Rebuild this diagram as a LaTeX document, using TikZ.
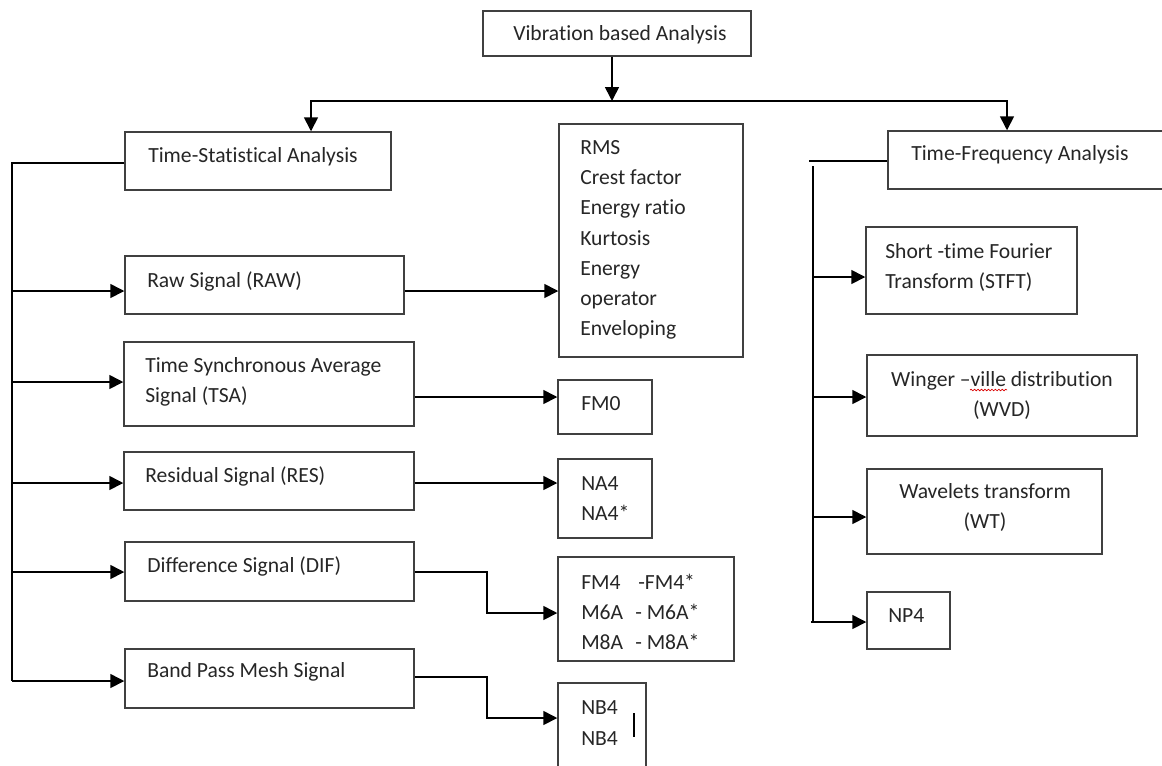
\documentclass[tikz,border=0pt]{standalone}
\usepackage{fontspec}
\setmainfont{Carlito}[Ligatures={NoCommon,NoRare,NoContextual}]
\usetikzlibrary{arrows.meta,fit,decorations.pathmorphing}
\begin{document}
\begin{tikzpicture}[x=0.75pt,y=-0.75pt,
  box/.style={draw=black!75, line width=1.1pt, inner sep=0pt},
  lbl/.style={font=\fontsize{16.2}{22.7}\selectfont, text=black!85, inner sep=0pt, align=left},
  clbl/.style={font=\fontsize{16.2}{22.7}\selectfont, text=black!85, inner sep=0pt, align=center},
  con/.style={line width=1.2pt},
  arr/.style={line width=1.2pt, -{Triangle[length=10.5pt,width=10.5pt]}}]
\useasboundingbox (0,0) rectangle (1162,765);
\clip (0,0) rectangle (1162,765);
\fill[white] (0,0) rectangle (1162,765);

% boxes
\node[box, fit={(483,11) (751,56)}] (top) {};
\node[box, fit={(125,132) (391,190)}] (tsa) {};
\node[box, fit={(125,256) (404,314)}] (raw) {};
\node[box, fit={(124,342) (414,426)}] (tsas) {};
\node[box, fit={(124,452) (414,510)}] (res) {};
\node[box, fit={(125,542) (414,601)}] (dif) {};
\node[box, fit={(125,649) (414,708)}] (bpm) {};
\node[box, fit={(559,124) (743,357)}] (list) {};
\node[box, fit={(558,380) (652,434)}] (fm0) {};
\node[box, fit={(558,459) (652,538)}] (na4) {};
\node[box, fit={(558,557) (734,661)}] (fm4) {};
\node[box, fit={(558,683) (646,790)}] (nb4) {};
\node[box, fit={(888,131) (1180,189)}] (tf) {};
\node[box, fit={(866,227) (1077,314)}] (stft) {};
\node[box, fit={(867,355) (1137,436)}] (wvd) {};
\node[box, fit={(867,469) (1102,554)}] (wt) {};
\node[box, fit={(867,592) (950,649)}] (np4) {};

% texts
\node[lbl, anchor=west] (topt) at (513,35) {Vibration based Analysis};
\node[lbl, anchor=west] (tsat) at (148,157) {Time-Statistical Analysis};
\node[lbl, anchor=west] (rawt) at (147,281) {Raw Signal (RAW)};
\node[lbl, anchor=west] (tsast) at (145,382) {Time Synchronous Average\\Signal (TSA)};
\node[lbl, anchor=west] (rest) at (145,476) {Residual Signal (RES)};
\node[lbl, anchor=west] (dift) at (147,566) {Difference Signal (DIF)};
\node[lbl, anchor=west] (bpmt) at (147,672) {Band Pass Mesh Signal};
\node[lbl, anchor=west] (listt) at (580,240) {RMS\\Crest factor\\Energy ratio\\Kurtosis\\Energy\\operator\\Enveloping};
\node[lbl, anchor=west] (fm0t) at (581,404) {FM0};
\node[lbl, anchor=west] (na4t) at (581,498.5) {NA4\\NA4*};
\node[lbl, anchor=west] (fm4t) at (581,612) {\makebox[42.75pt][l]{FM4}-FM4*\\\makebox[40.5pt][l]{M6A}- M6A*\\\makebox[40.5pt][l]{M8A}- M8A*};
\node[lbl, anchor=west] (nb4t) at (581,723) {NB4\\NB4};
\node[lbl, anchor=west] (tft) at (911,155) {Time-Frequency Analysis};
\node[lbl, anchor=west] (stftt) at (885,267.5) {Short -time Fourier\\Transform (STFT)};
\node[clbl] (wvdt) at (1002,395.5) {Winger –ville distribution\\(WVD)};
\node[clbl] (wtt) at (985,507.5) {Wavelets transform\\(WT)};
\node[lbl, anchor=west] (np4t) at (888,616) {NP4};

% spell-check squiggle and bar
\draw[red!85!black, line width=0.5pt, decorate, decoration={snake, amplitude=0.6pt, segment length=2.6pt}] (970,390) -- (1007,390);
\draw[line width=1.6pt] (634,713) -- (634,737);

% top distribution
\coordinate (jt) at (612,101);
\coordinate (jl) at (311,101);
\coordinate (jr) at (1007,101);
\draw[arr] (top.south -| jt) -- (jt);
\draw[arr] (jt) -| (jl |- tsa.north);
\draw[arr] (jt) -| (jr |- tf.north);

% left bus
\coordinate (lb0) at (12,163);
\coordinate (lb1) at (12,291);
\coordinate (lb2) at (12,382);
\coordinate (lb3) at (12,483);
\coordinate (lb4) at (12,572);
\coordinate (lb5) at (12,681);
\draw[con] (tsa.west |- lb0) -- (lb0) -- (lb5);
\draw[arr] (lb1) -- (lb1 -| raw.west);
\draw[arr] (lb2) -- (lb2 -| tsas.west);
\draw[arr] (lb3) -- (lb3 -| res.west);
\draw[arr] (lb4) -- (lb4 -| dif.west);
\draw[arr] (lb5) -- (lb5 -| bpm.west);

% middle connectors
\coordinate (m1) at (0,291);
\coordinate (m2) at (0,397);
\coordinate (m3) at (0,483);
\coordinate (m5) at (0,677);
\coordinate (kd) at (487,613);
\coordinate (kb) at (487,718);
\draw[arr] (raw.east |- m1) -- (list.west |- m1);
\draw[arr] (tsas.east |- m2) -- (fm0.west |- m2);
\draw[arr] (res.east |- m3) -- (na4.west |- m3);
\draw[arr] (dif.east |- lb4) -| (kd) -- (fm4.west |- kd);
\draw[arr] (bpm.east |- m5) -| (kb) -- (nb4.west |- kb);

% right bus
\coordinate (rb0) at (809,161);
\coordinate (rbt) at (813,166);
\coordinate (rbb) at (811,622);
\coordinate (r1) at (813,277);
\coordinate (r2) at (813,397);
\coordinate (r3) at (813,517);
\draw[con] (tf.west |- rb0) -- (rb0);
\draw[con] (rbt) -- (rbb -| rbt);
\draw[arr] (r1) -- (r1 -| stft.west);
\draw[arr] (r2) -- (r2 -| wvd.west);
\draw[arr] (r3) -- (r3 -| wt.west);
\draw[arr] (rbb) -- (rbb -| np4.west);
\end{tikzpicture}
\end{document}
